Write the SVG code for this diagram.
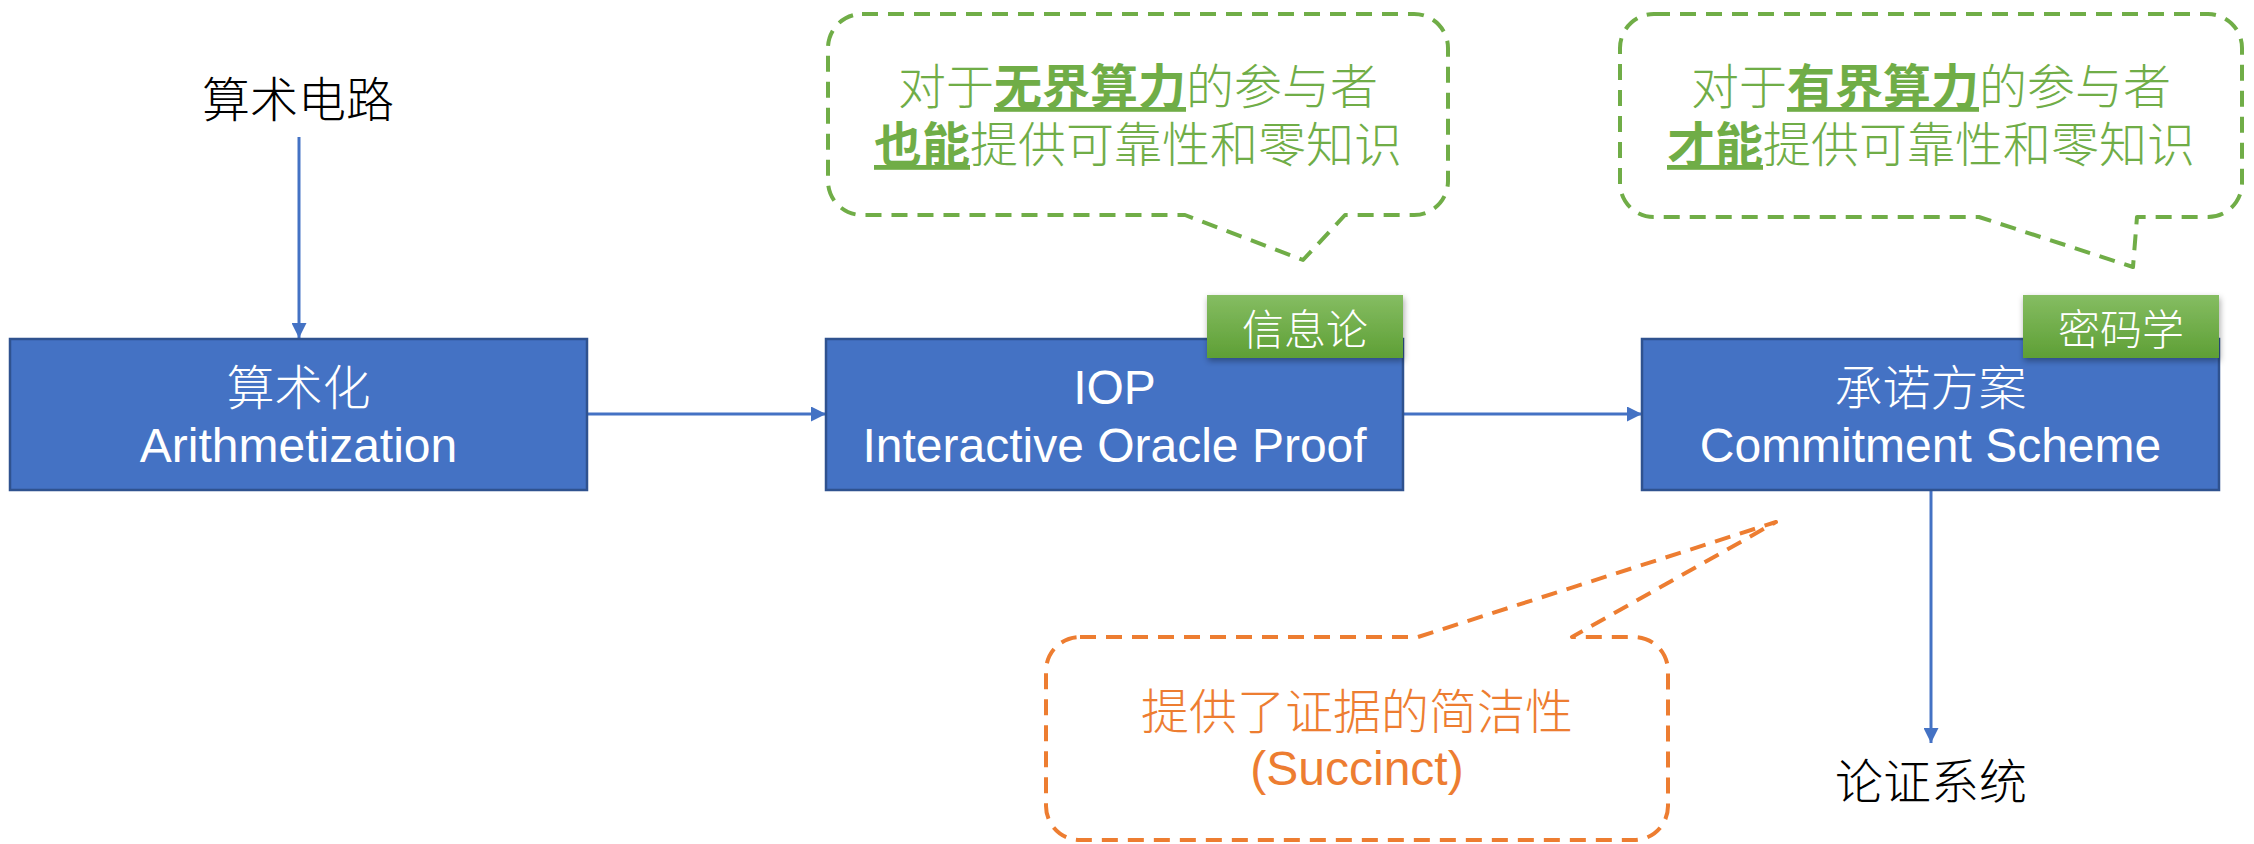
<svg xmlns="http://www.w3.org/2000/svg" width="2254" height="844" viewBox="0 0 2254 844">
<style>
.box{fill:#4472C4;stroke:#2F528F;stroke-width:2.5}
.bt{font-family:"Liberation Sans","Noto Sans CJK SC",sans-serif;font-size:48px;font-weight:300;fill:#ffffff;text-anchor:middle}
.cjk{font-family:"Noto Sans CJK SC",sans-serif;font-size:48px;font-weight:300;text-anchor:middle}
.tag{fill:url(#tg);filter:url(#sh)}
.tt{font-family:"Noto Sans CJK SC",sans-serif;font-size:42px;font-weight:300;fill:#ffffff;text-anchor:middle}
.conn{stroke:#4472C4;stroke-width:3;fill:none}
.gc{fill:none;stroke:#70AD47;stroke-width:4;stroke-dasharray:16 10;stroke-linejoin:round}
.oc{fill:none;stroke:#ED7D31;stroke-width:4;stroke-dasharray:16 10;stroke-linejoin:round}
.gt{font-family:"Noto Sans CJK SC",sans-serif;font-size:48px;font-weight:300;fill:#70AD47;text-anchor:start}
.ot{font-family:"Liberation Sans","Noto Sans CJK SC",sans-serif;font-size:48px;font-weight:300;fill:#ED7D31;text-anchor:middle}
.em{font-weight:bold;text-decoration:underline}
</style>
<defs>
<linearGradient id="tg" x1="0" y1="0" x2="0" y2="1">
<stop offset="0" stop-color="#85BD62"/>
<stop offset="1" stop-color="#5E9F35"/>
</linearGradient>
<filter id="sh" x="-10%" y="-20%" width="130%" height="150%">
<feDropShadow dx="1" dy="3" stdDeviation="3" flood-color="#000000" flood-opacity="0.35"/>
</filter>
<marker id="ah" markerWidth="5" markerHeight="5" refX="5" refY="2.5" orient="auto" markerUnits="strokeWidth">
<path d="M0,0 L5,2.5 L0,5 Z" fill="#4472C4"/>
</marker>
</defs>

<g id="connectors">
<line class="conn" x1="299" y1="137" x2="299" y2="338" marker-end="url(#ah)"/>
<line class="conn" x1="587" y1="414" x2="826" y2="414" marker-end="url(#ah)"/>
<line class="conn" x1="1403" y1="414" x2="1642" y2="414" marker-end="url(#ah)"/>
<line class="conn" x1="1931" y1="491" x2="1931" y2="743" marker-end="url(#ah)"/>
</g>

<g id="circuit">
<text class="cjk" x="298" y="117" fill="#000000">算术电路</text>
</g>

<g id="arith">
<rect class="box" x="10" y="339" width="577" height="151"/>
<text class="bt" x="298.5" y="405">算术化</text>
<text class="bt" x="298.5" y="462">Arithmetization</text>
</g>

<g id="iop">
<rect class="box" x="826" y="339" width="577" height="151"/>
<text class="bt" x="1114.5" y="404">IOP</text>
<text class="bt" x="1114.5" y="462">Interactive Oracle Proof</text>
</g>

<g id="tag-info">
<rect class="tag" x="1207" y="295" width="196" height="63"/>
<text class="tt" x="1305" y="345">信息论</text>
</g>

<g id="commit">
<rect class="box" x="1642" y="339" width="577" height="151"/>
<text class="bt" x="1930.5" y="405">承诺方案</text>
<text class="bt" x="1930.5" y="462">Commitment Scheme</text>
</g>

<g id="tag-crypto">
<rect class="tag" x="2023" y="295" width="196" height="63"/>
<text class="tt" x="2121" y="345">密码学</text>
</g>

<g id="proof-system">
<text class="cjk" x="1931" y="799" fill="#000000">论证系统</text>
</g>

<g id="callout-unbounded">
<path class="gc" d="M862,14 H1414 A34,34 0 0 1 1448,48 V181 A34,34 0 0 1 1414,215 H1345 L1303,260 L1185,215 H862 A34,34 0 0 1 828,181 V48 A34,34 0 0 1 862,14 Z"/>
<text class="gt" x="898" y="104">对于</text>
<text class="gt em" x="994" y="104">无界算力</text>
<text class="gt" x="1186" y="104">的参与者</text>
<text class="gt em" x="874" y="162">也能</text>
<text class="gt" x="970" y="162">提供可靠性和零知识</text>
</g>

<g id="callout-bounded">
<path class="gc" d="M1654,14 H2208 A34,34 0 0 1 2242,48 V183 A34,34 0 0 1 2208,217 H2137 L2133,267 L1979,217 H1654 A34,34 0 0 1 1620,183 V48 A34,34 0 0 1 1654,14 Z"/>
<text class="gt" x="1691" y="104">对于</text>
<text class="gt em" x="1787" y="104">有界算力</text>
<text class="gt" x="1979" y="104">的参与者</text>
<text class="gt em" x="1667" y="162">才能</text>
<text class="gt" x="1763" y="162">提供可靠性和零知识</text>
</g>

<g id="callout-succinct">
<path class="oc" d="M1080,637 H1418 L1776,522 L1572,637 H1634 A34,34 0 0 1 1668,671 V806 A34,34 0 0 1 1634,840 H1080 A34,34 0 0 1 1046,806 V671 A34,34 0 0 1 1080,637 Z"/>
<text class="ot" x="1357" y="729">提供了证据的简洁性</text>
<text class="ot" x="1357" y="785">(Succinct)</text>
</g>
</svg>
